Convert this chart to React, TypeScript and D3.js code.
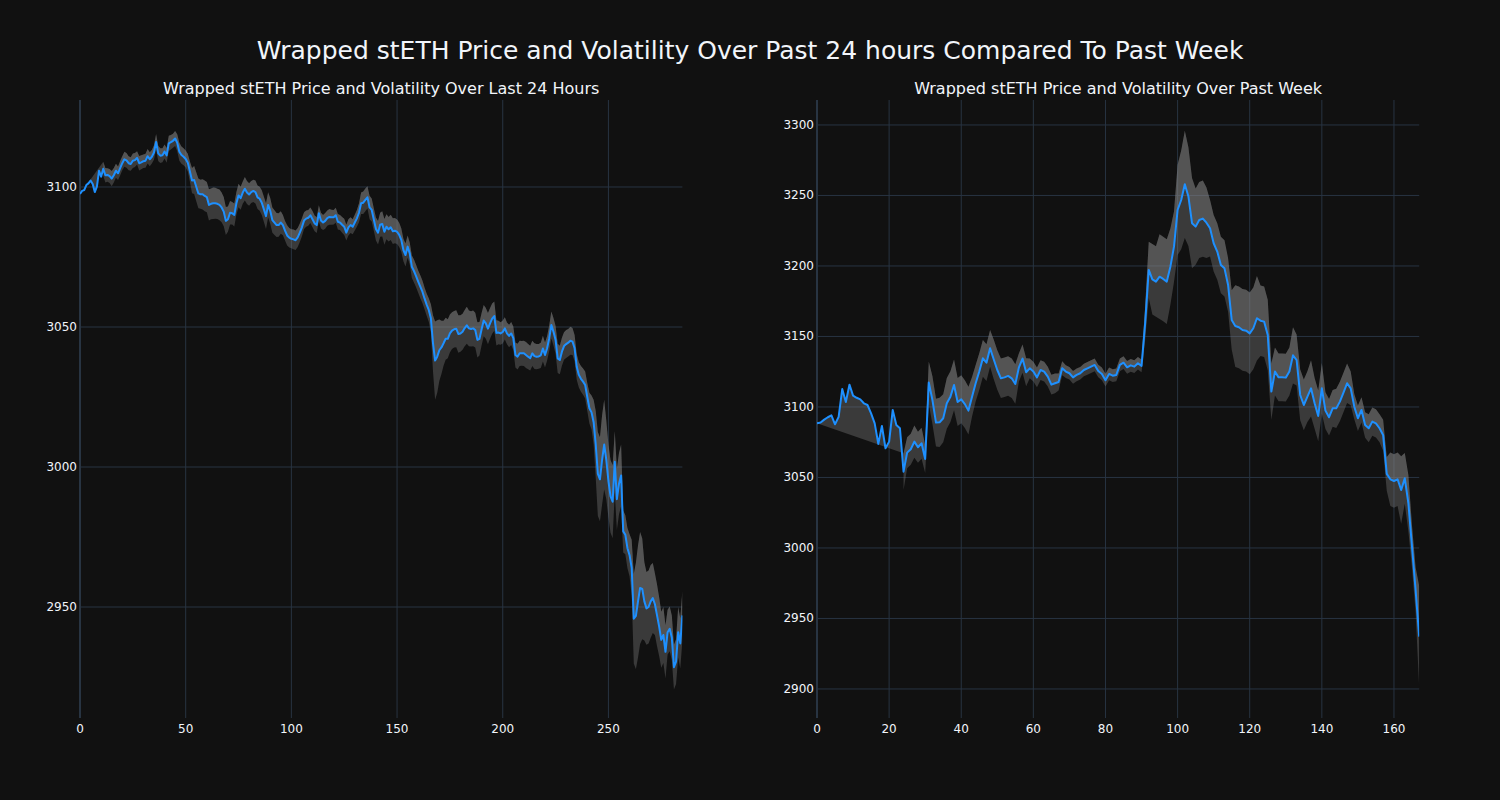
import React from 'react';
import * as d3 from 'd3';

const mainTitle = 'Wrapped stETH Price and Volatility Over Past 24 hours Compared To Past Week';
const dayTitle = 'Wrapped stETH Price and Volatility Over Last 24 Hours';
const weekTitle = 'Wrapped stETH Price and Volatility Over Past Week';

const dayPrice = [
  3097.5, 3098.6, 3098.9, 3100.7, 3101.3, 3102.3, 3101.1, 3098.2, 3100.1, 3105.8,
  3103.7, 3106.5, 3104.2, 3104.3, 3103.9, 3103.0, 3104.2, 3105.8, 3104.9, 3106.7,
  3108.5, 3109.9, 3109.5, 3108.5, 3108.2, 3109.4, 3109.6, 3110.4, 3108.5, 3108.8,
  3109.2, 3109.4, 3111.0, 3109.9, 3110.8, 3112.3, 3116.1, 3112.0, 3111.2, 3111.3,
  3112.7, 3111.3, 3115.6, 3116.0, 3116.5, 3117.3, 3115.8, 3112.6, 3111.4, 3110.8,
  3110.0, 3108.7, 3105.5, 3102.3, 3102.5, 3100.1, 3097.7, 3097.4, 3097.4, 3096.8,
  3096.4, 3093.6, 3094.0, 3094.2, 3094.2, 3094.0, 3093.6, 3092.7, 3091.2, 3087.9,
  3088.5, 3090.8, 3090.6, 3090.0, 3094.2, 3097.0, 3096.0, 3098.0, 3099.4, 3098.0,
  3097.3, 3098.2, 3098.6, 3098.2, 3096.3, 3095.8, 3094.4, 3092.0, 3089.6, 3093.6,
  3091.5, 3088.2, 3087.3, 3086.4, 3086.4, 3087.3, 3086.4, 3084.4, 3082.7, 3081.9,
  3081.5, 3081.3, 3081.0, 3082.0, 3083.7, 3085.6, 3088.0, 3088.7, 3089.0, 3089.9,
  3088.5, 3087.0, 3086.4, 3090.6, 3088.0, 3087.3, 3087.9, 3088.9, 3089.3, 3089.2,
  3089.2, 3089.9, 3087.6, 3087.3, 3086.5, 3085.8, 3083.7, 3085.6, 3086.4, 3085.8,
  3087.3, 3088.8, 3090.8, 3094.2, 3094.4, 3095.4, 3096.3, 3092.7, 3091.8, 3088.4,
  3085.0, 3083.7, 3086.5, 3086.8, 3084.0, 3085.8, 3084.9, 3085.6, 3084.2, 3084.4,
  3084.0, 3082.9, 3081.1, 3077.5, 3075.7, 3078.7, 3076.3, 3071.5, 3070.0, 3068.2,
  3066.2, 3064.4, 3062.6, 3060.2, 3058.0, 3056.1, 3053.1, 3044.2, 3038.0, 3039.4,
  3041.7, 3042.7, 3044.2, 3045.8, 3045.8, 3047.7, 3048.7, 3049.2, 3049.4, 3047.5,
  3047.7, 3048.3, 3049.6, 3050.6, 3049.5, 3049.3, 3049.5, 3048.9, 3045.4, 3045.8,
  3049.2, 3052.3, 3051.3, 3049.4, 3051.3, 3053.0, 3053.9, 3047.9, 3048.0, 3047.7,
  3048.2, 3049.5, 3047.7, 3046.8, 3047.7, 3046.0, 3040.0, 3039.4, 3040.6, 3040.6,
  3040.6, 3040.0, 3039.4, 3038.9, 3040.6, 3039.6, 3039.4, 3039.5, 3039.9, 3042.3,
  3040.0, 3042.4, 3046.0, 3050.7, 3048.3, 3045.4, 3038.8, 3038.2, 3041.2, 3043.2,
  3043.9, 3044.4, 3045.1, 3044.8, 3042.4, 3035.8, 3032.9, 3031.5, 3030.5, 3029.3,
  3025.0, 3021.0, 3019.5, 3016.0, 3008.0, 2997.5, 2995.6, 3002.5, 3008.0, 3002.5,
  2995.0, 2989.5, 2987.6, 3001.9, 2988.5, 2994.0, 2997.0, 2977.0, 2975.8, 2971.0,
  2968.5, 2964.0, 2945.8, 2946.8, 2952.0, 2956.8, 2956.5, 2952.0, 2949.5, 2950.0,
  2952.0, 2953.2, 2951.0, 2947.0, 2943.0, 2938.3, 2940.0, 2934.0, 2941.0, 2942.2,
  2939.0, 2928.5, 2930.5, 2941.0, 2937.0, 2947.0,
];

const dayVol = [
  null, null, null, null, null, null, null, null, null, null,
  null, 2.5, 2.6, 2.4, 2.5, 2.7, 2.6, 2.5, 2.4, 2.6,
  2.5, 2.7, 2.6, 2.5, 2.4, 2.6, 2.5, 2.4, 2.6, 2.5,
  2.4, 2.5, 2.6, 2.5, 2.4, 2.6, 2.8, 2.7, 2.6, 2.5,
  2.5, 2.6, 2.7, 2.6, 2.5, 2.7, 3.0, 3.2, 3.1, 3.0,
  3.0, 3.2, 3.6, 4.5, 5.0, 5.2, 5.3, 5.2, 5.4, 5.5,
  5.4, 5.6, 5.5, 5.6, 5.5, 5.4, 5.5, 5.3, 5.2, 5.0,
  4.5, 4.2, 4.0, 4.1, 4.0, 4.2, 4.1, 4.0, 4.2, 4.1,
  4.0, 3.9, 4.0, 4.1, 4.2, 4.3, 4.4, 4.5, 4.6, 4.5,
  4.6, 4.5, 4.4, 4.3, 4.2, 4.0, 3.6, 3.5, 3.6, 3.5,
  3.4, 3.5, 3.5, 3.4, 3.3, 3.2, 3.0, 2.9, 2.8, 2.8,
  2.9, 2.8, 2.8, 2.9, 2.8, 2.7, 2.8, 2.7, 2.8, 2.7,
  2.6, 2.7, 2.8, 2.7, 2.8, 2.9, 2.8, 2.9, 2.8, 2.7,
  2.8, 3.0, 3.4, 3.8, 4.0, 4.1, 4.0, 4.2, 4.1, 4.0,
  4.1, 4.2, 4.3, 4.5, 4.6, 4.5, 4.4, 4.5, 4.6, 4.5,
  4.4, 4.3, 4.2, 4.0, 4.1, 4.0, 3.9, 4.0, 4.1, 4.0,
  4.0, 4.1, 4.0, 3.9, 4.0, 4.2, 5.0, 10.0, 14.0, 13.0,
  11.0, 9.5, 8.0, 7.5, 7.0, 6.8, 6.6, 6.5, 6.6, 6.7,
  6.5, 6.4, 6.5, 6.6, 6.4, 6.3, 6.4, 6.2, 6.3, 6.0,
  5.8, 5.6, 5.5, 5.6, 5.5, 5.4, 5.2, 4.5, 4.2, 4.0,
  4.1, 4.0, 3.9, 4.0, 4.1, 4.2, 4.5, 4.6, 4.5, 4.4,
  4.5, 4.6, 4.5, 4.4, 4.5, 4.6, 4.5, 4.4, 4.5, 4.6,
  4.5, 4.4, 4.6, 4.8, 4.9, 5.0, 5.2, 5.1, 5.0, 4.9,
  5.0, 4.9, 5.0, 4.8, 4.7, 4.6, 4.5, 4.6, 4.7, 4.8,
  5.0, 5.5, 6.0, 8.0, 12.0, 15.0, 15.0, 16.0, 16.0, 14.0,
  13.0, 13.0, 13.0, 11.0, 11.0, 11.0, 11.0, 7.5, 7.0, 7.2,
  7.5, 10.0, 16.0, 19.0, 20.0, 20.0, 18.0, 14.0, 13.0, 13.0,
  13.0, 12.5, 11.0, 11.0, 10.5, 10.0, 10.0, 9.5, 8.0, 8.0,
  8.0, 8.0, 8.0, 9.0, 9.0, 9.0,
];

const weekPrice = [
  3088.4, 3089.0, 3091.0, 3092.7, 3094.0, 3087.7, 3093.0, 3112.7, 3103.5, 3115.8,
  3108.0, 3106.5, 3105.4, 3102.6, 3101.4, 3095.5, 3088.4, 3073.8, 3086.5, 3070.7,
  3075.4, 3097.9, 3087.2, 3084.9, 3054.1, 3067.6, 3070.0, 3075.4, 3071.4, 3074.2,
  3063.1, 3117.3, 3105.0, 3088.9, 3089.1, 3092.0, 3102.6, 3107.3, 3115.6, 3103.5,
  3105.4, 3102.0, 3097.4, 3107.3, 3116.8, 3125.1, 3134.5, 3131.4, 3141.6, 3133.8,
  3126.2, 3120.3, 3121.0, 3122.0, 3120.3, 3116.3, 3128.1, 3134.3, 3124.6, 3127.4,
  3125.1, 3121.0, 3126.2, 3125.1, 3121.5, 3115.8, 3116.8, 3117.7, 3127.4, 3125.1,
  3123.9, 3121.0, 3122.7, 3123.9, 3126.2, 3127.4, 3128.6, 3129.8, 3125.5, 3123.4,
  3119.0, 3123.4, 3122.2, 3122.7, 3129.8, 3131.4, 3128.1, 3129.5, 3128.6, 3131.0,
  3129.1, 3159.3, 3197.2, 3190.5, 3188.9, 3192.4, 3190.8, 3188.9, 3199.5, 3213.7,
  3239.7, 3246.8, 3257.9, 3249.2, 3230.3, 3227.9, 3232.6, 3233.6, 3230.7, 3226.7,
  3216.1, 3210.2, 3200.7, 3198.3, 3186.5, 3161.7, 3157.4, 3156.5, 3154.6, 3154.1,
  3152.2, 3155.8, 3162.9, 3161.2, 3160.5, 3151.1, 3110.9, 3125.1, 3121.0, 3121.0,
  3120.8, 3125.1, 3136.6, 3133.3, 3108.5, 3101.4, 3107.3, 3113.2, 3102.6, 3093.6,
  3113.2, 3097.4, 3092.7, 3099.0, 3099.0, 3103.8, 3110.2, 3116.8, 3113.2, 3100.2,
  3092.0, 3097.9, 3087.2, 3084.9, 3089.6, 3088.4, 3084.9, 3080.0, 3052.5, 3048.7,
  3047.5, 3048.7, 3041.1, 3049.4, 3031.7, 3000.9, 2970.2, 2937.1,
];

const weekVol = [
  null, null, null, null, null, null, null, null, null, null,
  null, null, null, null, null, null, null, null, null, null,
  null, null, null, null, 13, 11, 11, 11.5, 11, 11,
  10, 15, 17, 17, 17.5, 17, 18, 18, 18, 17,
  17, 17, 17, 14, 13, 13, 13, 13, 13, 14,
  14, 14, 14, 14, 14, 14, 10, 10, 10, 7,
  7, 7, 7, 7, 7, 7, 7, 6, 5, 4.5,
  4.5, 4.5, 4.5, 4.5, 4.5, 4.5, 4.5, 4.5, 4.5, 4.5,
  4.5, 4.5, 4.5, 4.5, 4.5, 4.5, 4.5, 4.5, 4.5, 4.5,
  4.5, 12, 20, 25, 25, 30, 30, 30, 27, 25,
  32, 35, 38, 35, 32, 27, 27, 27, 25, 20,
  20, 20, 20, 20, 19, 21, 29, 29, 29, 29,
  29, 29, 30, 25, 25, 25, 20, 17, 17, 17,
  17, 17, 20, 18, 18, 18, 18, 20, 18, 18,
  18, 13, 13, 13, 14, 14, 14, 14, 12, 9,
  9, 9, 9, 10, 10, 10, 10, 11, 12, 19,
  19, 19, 24, 18, 20, 15, 16, 36,
];

const dayXTicks = [0, 50, 100, 150, 200, 250];
const dayYTicks = [2950, 3000, 3050, 3100];
const weekXTicks = [0, 20, 40, 60, 80, 100, 120, 140, 160];
const weekYTicks = [2900, 2950, 3000, 3050, 3100, 3150, 3200, 3250, 3300];

const BG = '#111111';
const GRID = '#283442';
const TEXT = '#f2f5fa';
const LINE = '#1e90ff';
const FILL = 'rgba(135,135,135,0.35)';
const FONT = '"DejaVu Sans", verdana, arial, sans-serif';

type PanelProps = {
  id: string;
  price: number[];
  vol: (number | null)[];
  xDomain: [number, number];
  yDomain: [number, number];
  left: number;
  right: number;
  top: number;
  bottom: number;
  xTicks: number[];
  yTicks: number[];
  title: string;
};

function Panel(p: PanelProps) {
  const x = d3.scaleLinear().domain(p.xDomain).range([p.left, p.right]);
  const y = d3.scaleLinear().domain(p.yDomain).range([p.bottom, p.top]);
  const n = p.price.length;
  const k = p.vol.findIndex((v) => v != null);
  const idx = d3.range(k, n);
  const upper: [number, number][] = idx.map((i) => [x(i), y(p.price[i] + (p.vol[i] as number))]);
  const lower: [number, number][] = idx.map((i) => [x(i), y(p.price[i] - (p.vol[i] as number))]);
  const priceRev: [number, number][] = d3.range(n - 1, -1, -1).map((i) => [x(i), y(p.price[i])]);
  const poly = d3.line();
  const fillA = poly([...upper, ...priceRev]) + 'Z';
  const fillB = poly([...lower, ...upper.slice().reverse()]) + 'Z';
  const priceLine = d3
    .line<number>()
    .x((_, i) => x(i))
    .y((d) => y(d))(p.price) as string;

  return (
    <g>
      <defs>
        <clipPath id={p.id}>
          <rect x={p.left} y={p.top} width={p.right - p.left} height={p.bottom - p.top} />
        </clipPath>
      </defs>
      {p.xTicks.filter((t) => t !== 0).map((t) => (
        <line key={'gx' + t} x1={x(t)} x2={x(t)} y1={p.top} y2={p.bottom} stroke={GRID} strokeWidth={1} />
      ))}
      {p.yTicks.map((t) => (
        <line key={'gy' + t} x1={p.left} x2={p.right} y1={y(t)} y2={y(t)} stroke={GRID} strokeWidth={1} />
      ))}
      <line x1={x(0)} x2={x(0)} y1={p.top} y2={p.bottom} stroke={GRID} strokeWidth={2} />
      <g clipPath={`url(#${p.id})`}>
        <path d={fillA} fill={FILL} stroke="none" />
        <path d={fillB} fill={FILL} stroke="none" />
        <path d={priceLine} fill="none" stroke={LINE} strokeWidth={2} strokeLinejoin="round" />
      </g>
      {p.xTicks.map((t) => (
        <text key={'tx' + t} x={x(t)} y={p.bottom + 15} textAnchor="middle" fontSize={12} fill={TEXT} fontFamily={FONT}>
          {t}
        </text>
      ))}
      {p.yTicks.map((t) => (
        <text key={'ty' + t} x={p.left - 3} y={y(t) + 4} textAnchor="end" fontSize={12} fill={TEXT} fontFamily={FONT}>
          {t}
        </text>
      ))}
      <text x={(p.left + p.right) / 2} y={p.top - 6} textAnchor="middle" fontSize={16} fill={TEXT} fontFamily={FONT}>
        {p.title}
      </text>
    </g>
  );
}

export default function App() {
  return (
    <svg
      width={1500}
      height={800}
      style={{ position: 'absolute', left: 0, top: 0, background: BG }}
    >
      <rect x={0} y={0} width={1500} height={800} fill={BG} />
      <text x={750} y={59} textAnchor="middle" fontSize={25} fill={TEXT} fontFamily={FONT}>
        {mainTitle}
      </text>
      <Panel
        id="clipDay"
        price={dayPrice}
        vol={dayVol}
        xDomain={[0, 285]}
        yDomain={[2910.36, 3131.07]}
        left={80}
        right={682.4}
        top={100}
        bottom={718}
        xTicks={dayXTicks}
        yTicks={dayYTicks}
        title={dayTitle}
      />
      <Panel
        id="clipWeek"
        price={weekPrice}
        vol={weekVol}
        xDomain={[0, 167]}
        yDomain={[2879.4, 3317.7]}
        left={817}
        right={1419.2}
        top={100}
        bottom={718}
        xTicks={weekXTicks}
        yTicks={weekYTicks}
        title={weekTitle}
      />
    </svg>
  );
}
